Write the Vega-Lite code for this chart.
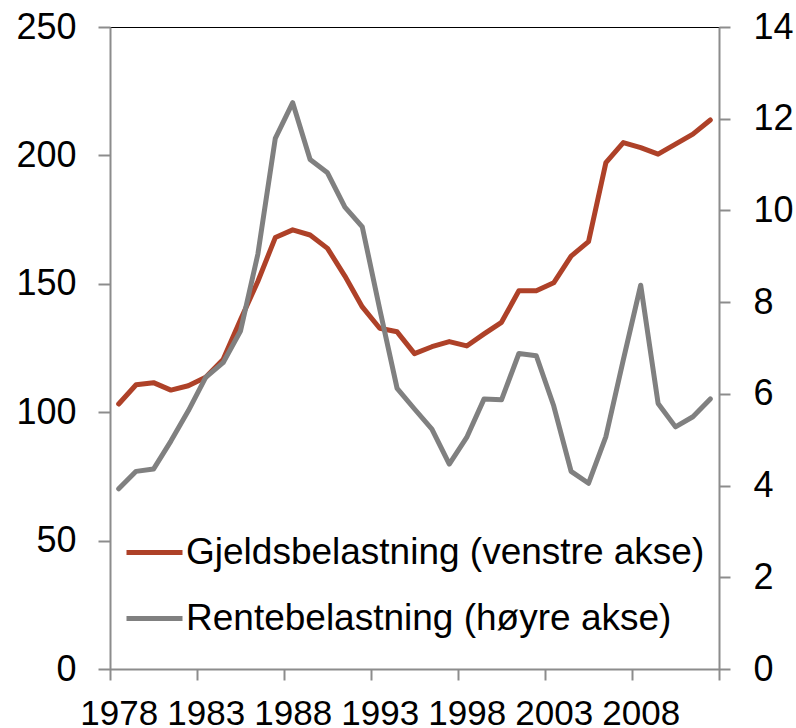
{
  "$schema": "https://vega.github.io/schema/vega-lite/v6.json",
  "width": 609,
  "height": 642,
  "autosize": "none",
  "padding": {"left": 110, "top": 27, "right": 77, "bottom": 59},
  "background": "white",
  "config": {
    "font": "Liberation Sans",
    "view": {"stroke": "black", "strokeWidth": 1}
  },
  "data": {
    "values": [
      {"year": 1978, "gjeld": 103.2, "rente": 3.93},
      {"year": 1979, "gjeld": 110.7, "rente": 4.31},
      {"year": 1980, "gjeld": 111.5, "rente": 4.36},
      {"year": 1981, "gjeld": 108.6, "rente": 4.97},
      {"year": 1982, "gjeld": 110.3, "rente": 5.63},
      {"year": 1983, "gjeld": 113.6, "rente": 6.36},
      {"year": 1984, "gjeld": 120.5, "rente": 6.68},
      {"year": 1985, "gjeld": 136.0, "rente": 7.37},
      {"year": 1986, "gjeld": 151.0, "rente": 9.05},
      {"year": 1987, "gjeld": 168.0, "rente": 11.57},
      {"year": 1988, "gjeld": 171.0, "rente": 12.35},
      {"year": 1989, "gjeld": 169.0, "rente": 11.11},
      {"year": 1990, "gjeld": 163.8, "rente": 10.82},
      {"year": 1991, "gjeld": 153.0, "rente": 10.07},
      {"year": 1992, "gjeld": 141.0, "rente": 9.64},
      {"year": 1993, "gjeld": 132.7, "rente": 7.85},
      {"year": 1994, "gjeld": 131.3, "rente": 6.12},
      {"year": 1995, "gjeld": 122.8, "rente": 5.67},
      {"year": 1996, "gjeld": 125.5, "rente": 5.23},
      {"year": 1997, "gjeld": 127.5, "rente": 4.47},
      {"year": 1998, "gjeld": 125.8, "rente": 5.05},
      {"year": 1999, "gjeld": 130.5, "rente": 5.89},
      {"year": 2000, "gjeld": 135.0, "rente": 5.87},
      {"year": 2001, "gjeld": 147.3, "rente": 6.88},
      {"year": 2002, "gjeld": 147.3, "rente": 6.83},
      {"year": 2003, "gjeld": 150.4, "rente": 5.74},
      {"year": 2004, "gjeld": 160.8, "rente": 4.31},
      {"year": 2005, "gjeld": 166.4, "rente": 4.05},
      {"year": 2006, "gjeld": 197.2, "rente": 5.07},
      {"year": 2007, "gjeld": 205.0, "rente": 6.74},
      {"year": 2008, "gjeld": 203.0, "rente": 8.37},
      {"year": 2009, "gjeld": 200.5, "rente": 5.79},
      {"year": 2010, "gjeld": 204.4, "rente": 5.28},
      {"year": 2011, "gjeld": 208.3, "rente": 5.5},
      {"year": 2012, "gjeld": 213.8, "rente": 5.89}
    ]
  },
  "encoding": {
    "x": {
      "field": "year",
      "type": "quantitative",
      "scale": {"domain": [1977.5, 2012.5], "nice": false, "zero": false},
      "axis": {
        "title": null,
        "values": [1977.5, 1982.5, 1987.5, 1992.5, 1997.5, 2002.5, 2007.5, 2012.5],
        "labelExpr": "datum.value < 2012 ? format(datum.value + 0.5, 'd') : ''",
        "labelOffset": 8.7,
        "labelFontSize": 35,
        "labelColor": "black",
        "labelPadding": 16,
        "labelOverlap": false,
        "labelFlush": false,
        "labelBound": false,
        "tickSize": 11,
        "tickColor": "#8c8c8c",
        "tickWidth": 2,
        "domainColor": "#8c8c8c",
        "domainWidth": 2,
        "grid": false
      }
    }
  },
  "layer": [
    {
      "mark": {"type": "line", "strokeWidth": 5, "strokeJoin": "round", "strokeCap": "round"},
      "encoding": {
        "y": {
          "field": "gjeld",
          "type": "quantitative",
          "scale": {"domain": [0, 250], "nice": false},
          "axis": {
            "title": null,
            "orient": "left",
            "values": [0, 50, 100, 150, 200, 250],
            "labelFontSize": 36,
            "labelColor": "black",
            "labelPadding": 22,
            "tickSize": 12,
            "tickColor": "#8c8c8c",
            "tickWidth": 2,
            "domainColor": "#8c8c8c",
            "domainWidth": 2,
            "grid": false,
            "labelFlush": false,
            "labelBound": false
          }
        },
        "color": {
          "datum": "Gjeldsbelastning (venstre akse)",
          "type": "nominal",
          "scale": {
            "domain": ["Gjeldsbelastning (venstre akse)", "Rentebelastning (høyre akse)"],
            "range": ["#AE4128", "#808080"]
          },
          "legend": {
            "title": null,
            "orient": "none",
            "legendX": 14,
            "legendY": 495,
            "padding": 0,
            "symbolType": "stroke",
            "symbolSize": 3136,
            "symbolStrokeWidth": 5,
            "labelFontSize": 37,
            "labelColor": "black",
            "labelLimit": 800,
            "labelOffset": 1,
            "rowPadding": 17
          }
        }
      }
    },
    {
      "mark": {"type": "line", "strokeWidth": 5, "strokeJoin": "round", "strokeCap": "round"},
      "encoding": {
        "y": {
          "field": "rente",
          "type": "quantitative",
          "scale": {"domain": [0, 14], "nice": false},
          "axis": {
            "title": null,
            "orient": "right",
            "values": [0, 2, 4, 6, 8, 10, 12, 14],
            "labelFontSize": 36,
            "labelColor": "black",
            "labelPadding": 23,
            "tickSize": 11,
            "tickColor": "#8c8c8c",
            "tickWidth": 2,
            "domainColor": "#8c8c8c",
            "domainWidth": 2,
            "grid": false,
            "labelFlush": false,
            "labelBound": false
          }
        },
        "color": {"datum": "Rentebelastning (høyre akse)", "type": "nominal"}
      }
    }
  ],
  "resolve": {"scale": {"y": "independent"}}
}
